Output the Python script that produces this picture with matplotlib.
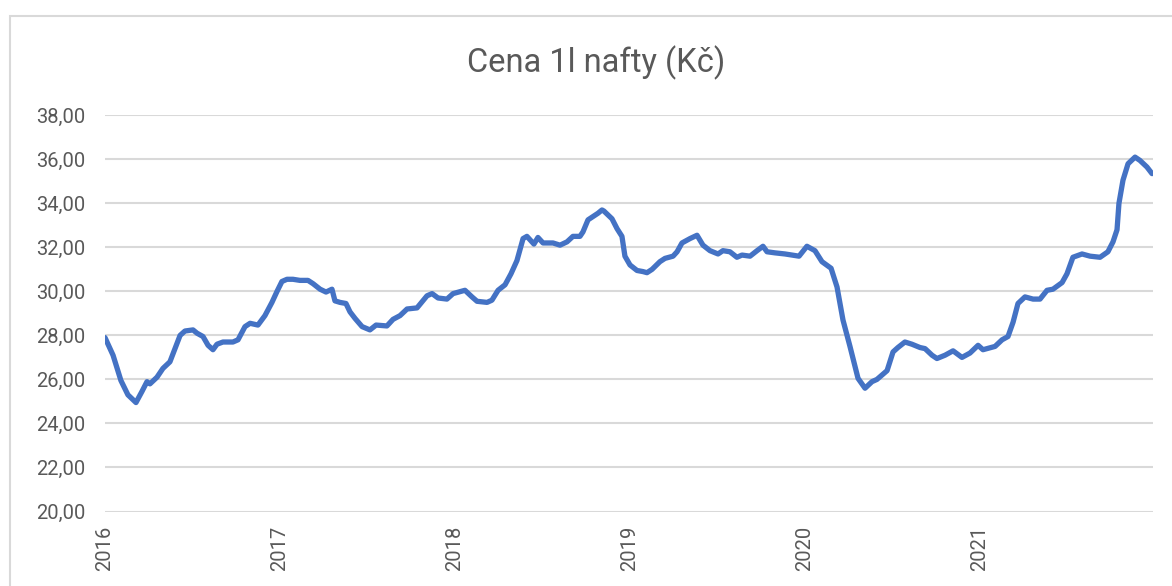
import numpy as np
import matplotlib
matplotlib.use("Agg")
from matplotlib import pyplot as plt
from matplotlib.patches import Rectangle

# cas v letech (desetinne), cena nafty v Kc
cas = [2016.000, 2016.046, 2016.091, 2016.131, 2016.177, 2016.211, 2016.240, 2016.257,
       2016.297, 2016.331, 2016.371, 2016.400, 2016.429, 2016.457, 2016.503, 2016.526,
       2016.560, 2016.589, 2016.617, 2016.640, 2016.674, 2016.731, 2016.760, 2016.800,
       2016.829, 2016.874, 2016.914, 2016.954, 2016.983, 2017.011, 2017.040, 2017.074,
       2017.114, 2017.160, 2017.189, 2017.229, 2017.263, 2017.297, 2017.314, 2017.343,
       2017.377, 2017.400, 2017.429, 2017.469, 2017.514, 2017.549, 2017.611, 2017.646,
       2017.686, 2017.726, 2017.783, 2017.840, 2017.869, 2017.903, 2017.954, 2017.989,
       2018.057, 2018.097, 2018.126, 2018.183, 2018.211, 2018.246, 2018.286, 2018.320,
       2018.354, 2018.389, 2018.411, 2018.451, 2018.474, 2018.503, 2018.560, 2018.600,
       2018.640, 2018.674, 2018.714, 2018.731, 2018.760, 2018.789, 2018.817, 2018.840,
       2018.851, 2018.897, 2018.926, 2018.954, 2018.971, 2019.000, 2019.040, 2019.074,
       2019.097, 2019.126, 2019.171, 2019.200, 2019.246, 2019.269, 2019.297, 2019.343,
       2019.383, 2019.417, 2019.457, 2019.503, 2019.531, 2019.571, 2019.611, 2019.640,
       2019.686, 2019.726, 2019.760, 2019.783, 2019.829, 2019.886, 2019.966, 2020.011,
       2020.057, 2020.097, 2020.149, 2020.183, 2020.217, 2020.257, 2020.303, 2020.343,
       2020.383, 2020.411, 2020.469, 2020.503, 2020.531, 2020.571, 2020.611, 2020.657,
       2020.686, 2020.726, 2020.754, 2020.800, 2020.846, 2020.897, 2020.943, 2020.989,
       2021.017, 2021.086, 2021.126, 2021.160, 2021.189, 2021.217, 2021.257, 2021.303,
       2021.343, 2021.383, 2021.417, 2021.469, 2021.497, 2021.531, 2021.583, 2021.629,
       2021.686, 2021.731, 2021.760, 2021.783, 2021.794, 2021.817, 2021.846, 2021.886,
       2021.914, 2021.954, 2021.983]

cena = [27.90, 27.10, 25.95, 25.30, 24.95, 25.45, 25.90, 25.80,
        26.10, 26.50, 26.80, 27.40, 28.00, 28.20, 28.25, 28.10,
        27.95, 27.55, 27.35, 27.60, 27.70, 27.70, 27.80, 28.40,
        28.55, 28.47, 28.90, 29.50, 30.00, 30.45, 30.55, 30.55,
        30.50, 30.50, 30.35, 30.10, 29.97, 30.10, 29.57, 29.50,
        29.45, 29.07, 28.77, 28.40, 28.25, 28.47, 28.43, 28.73,
        28.90, 29.20, 29.25, 29.80, 29.90, 29.70, 29.65, 29.90,
        30.05, 29.75, 29.55, 29.50, 29.60, 30.05, 30.30, 30.80,
        31.40, 32.40, 32.50, 32.15, 32.45, 32.20, 32.20, 32.10,
        32.25, 32.50, 32.50, 32.70, 33.25, 33.40, 33.55, 33.70,
        33.65, 33.30, 32.85, 32.50, 31.60, 31.20, 30.95, 30.90,
        30.85, 31.00, 31.35, 31.50, 31.60, 31.80, 32.20, 32.40,
        32.55, 32.10, 31.85, 31.70, 31.85, 31.80, 31.55, 31.65,
        31.60, 31.85, 32.05, 31.80, 31.75, 31.70, 31.60, 32.05,
        31.85, 31.35, 31.05, 30.20, 28.70, 27.50, 26.05, 25.60,
        25.90, 26.00, 26.40, 27.25, 27.45, 27.70, 27.60, 27.45,
        27.40, 27.10, 26.95, 27.10, 27.30, 27.00, 27.20, 27.55,
        27.35, 27.50, 27.80, 27.95, 28.60, 29.45, 29.75, 29.65,
        29.65, 30.05, 30.10, 30.40, 30.80, 31.55, 31.70, 31.60,
        31.55, 31.80, 32.25, 32.80, 34.00, 35.05, 35.80, 36.10,
        35.95, 35.65, 35.35]

roky = [2016, 2017, 2018, 2019, 2020, 2021]
y_ticky = [20, 22, 24, 26, 28, 30, 32, 34, 36, 38]

plt.rcParams['font.family'] = ['Roboto', 'DejaVu Sans']

fig = plt.figure(figsize=(11.72, 5.86), dpi=100)
ax = fig.add_axes([105/1172, 1 - 511.5/586, (1153 - 105)/1172, (511.5 - 115.3)/586])

# svetle sedy ramecek kolem grafu
fig.patches.append(Rectangle((10/1172, -0.1), 1.2, (586 - 16)/586 + 0.1,
                             transform=fig.transFigure, fill=False,
                             edgecolor='#D9D9D9', linewidth=1.5, clip_on=False))

ax.plot(cas, cena, color='#4472C4', linewidth=3.8,
        solid_capstyle='round', solid_joinstyle='round', zorder=3)

ax.set_xlim(2016, 2016 + 1048/175)
ax.set_ylim(20, 38)
ax.set_yticks(y_ticky)
ax.set_yticklabels([f"{v:.2f}".replace('.', ',') for v in y_ticky])
ax.set_xticks(roky)
ax.set_xticklabels([str(r) for r in roky], rotation=90)

ax.grid(axis='y', color='#D9D9D9', linewidth=1.5)
ax.set_axisbelow(True)
for s in ax.spines.values():
    s.set_visible(False)
ax.tick_params(axis='both', length=0, colors='#595959', labelsize=14.5)
ax.tick_params(axis='y', pad=14)
ax.tick_params(axis='x', pad=10)

fig.text(596/1172, 1 - 63/586, 'Cena 1l nafty (Kč)', ha='center', va='center',
         fontsize=23.5, color='#595959')

fig.savefig('out.png', dpi=100)
